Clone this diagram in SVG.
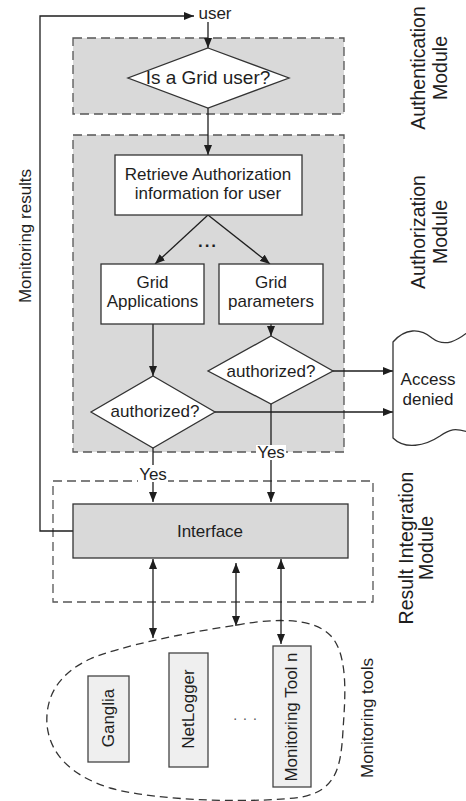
<svg xmlns="http://www.w3.org/2000/svg" width="466" height="801" viewBox="0 0 466 801">
  <defs>
    <style>
      .t { font-family: "Liberation Sans", Arial, sans-serif; font-size: 17px; fill: #1e1e1e; text-anchor: middle; }
      .mod { font-size: 19.5px; }
      .box { fill: #ffffff; stroke: #333333; stroke-width: 1.3; }
      .tool { fill: #efefef; stroke: #444444; stroke-width: 1.3; }
      .iface { fill: #d9d9d9; stroke: #333333; stroke-width: 1.3; }
      .module { fill: #d9d9d9; stroke: #555555; stroke-width: 1.3; stroke-dasharray: 9 5; }
      .frame { fill: none; stroke: #555555; stroke-width: 1.3; stroke-dasharray: 9 5; }
      .blob { fill: none; stroke: #333333; stroke-width: 1.3; stroke-dasharray: 8 5; }
      .conn { fill: none; stroke: #1e1e1e; stroke-width: 1.3; }
      .arr { marker-end: url(#head); }
      .both { marker-start: url(#head); marker-end: url(#head); }
      .dots { font-weight: bold; letter-spacing: 2px; }
    </style>
    <marker id="head" viewBox="0 0 10 8" refX="10" refY="4" markerWidth="10" markerHeight="8" markerUnits="userSpaceOnUse" orient="auto-start-reverse">
      <path d="M0,0 L10,4 L0,8 Z" fill="#1e1e1e"/>
    </marker>
  </defs>

  <rect width="466" height="801" fill="#ffffff"/>

  <!-- module frames -->
  <g id="authentication-module">
    <rect class="module" x="73" y="38" width="271" height="76"/>
    <text class="t mod" transform="translate(425,68) rotate(-90)">Authentication</text>
    <text class="t mod" transform="translate(447,68) rotate(-90)">Module</text>
  </g>
  <g id="authorization-module">
    <rect class="module" x="73" y="135" width="271" height="317"/>
    <text class="t mod" transform="translate(425,232) rotate(-90)">Authorization</text>
    <text class="t mod" transform="translate(447,232) rotate(-90)">Module</text>
  </g>
  <g id="result-integration-module">
    <rect class="frame" x="53" y="481" width="320" height="121"/>
    <text class="t mod" transform="translate(413,548) rotate(-90)">Result Integration</text>
    <text class="t mod" transform="translate(433,548) rotate(-90)">Module</text>
  </g>
  <g id="monitoring-tools">
    <path class="blob" d="M237,625 C270,619 312,616 331,636 C349,656 345,700 343,730 C341,768 336,790 302,797 C262,803 160,802 110,788 C72,776 50,755 47,725 C45,695 60,673 90,659 C120,646 190,632 237,625 Z"/>
    <text class="t" transform="translate(373,718) rotate(-90)">Monitoring tools</text>
  </g>

  <!-- connectors -->
  <g id="connectors">
    <path class="conn arr" d="M73,531 H40 V16 H194"/>
    <path class="conn arr" d="M208,22 V48"/>
    <path class="conn arr" d="M208,108 V155"/>
    <path class="conn arr" d="M208,215 L155,264"/>
    <path class="conn arr" d="M208,215 L270,264"/>
    <path class="conn arr" d="M153,324 V376"/>
    <path class="conn arr" d="M271,324 V336"/>
    <path class="conn arr" d="M333,371 H393"/>
    <path class="conn arr" d="M215,412 H393"/>
    <path class="conn arr" d="M153,448 V502"/>
    <path class="conn arr" d="M271,404 V502"/>
    <path class="conn both" d="M153,559 V638"/>
    <path class="conn both" d="M236,563 V626"/>
    <path class="conn both" d="M281,559 V644"/>
    <text class="t dots" x="208" y="247">...</text>
    <rect x="256" y="445" width="30" height="15" fill="#ffffff"/>
    <text class="t" x="271" y="458">Yes</text>
    <rect x="138" y="465" width="30" height="17" fill="#ffffff"/>
    <text class="t" x="153" y="480">Yes</text>
    <text class="t" x="24" y="236" transform="rotate(-90,24,236)" dy="7">Monitoring results</text>
  </g>

  <g id="user">
    <text class="t" x="215" y="19">user</text>
  </g>

  <g id="is-grid-user">
    <path class="box" d="M208,48 L289,78 L208,108 L128,78 Z"/>
    <text class="t" x="208" y="84" style="font-size:19px">Is a Grid user?</text>
  </g>

  <g id="retrieve-authorization">
    <rect class="box" x="115" y="155" width="187" height="60"/>
    <text class="t" x="208" y="180">Retrieve Authorization</text>
    <text class="t" x="208" y="199">information for user</text>
  </g>

  <g id="grid-applications">
    <rect class="box" x="101" y="264" width="103" height="60"/>
    <text class="t" x="152.5" y="288">Grid</text>
    <text class="t" x="152.5" y="307">Applications</text>
  </g>

  <g id="grid-parameters">
    <rect class="box" x="219" y="264" width="104" height="60"/>
    <text class="t" x="271" y="288">Grid</text>
    <text class="t" x="271" y="307">parameters</text>
  </g>

  <g id="authorized-parameters">
    <path class="box" d="M271,336 L333,371 L271,404 L208,371 Z"/>
    <text class="t" x="271" y="377">authorized?</text>
  </g>

  <g id="authorized-applications">
    <path class="box" d="M153,376 L215,412 L153,448 L91,412 Z"/>
    <text class="t" x="155" y="417">authorized?</text>
  </g>

  <g id="access-denied">
    <path class="box" d="M393,342 C405,328 420,328 432,338 C445,348 458,340 468,332 L468,432 C455,428 450,429 440,436 C425,446 405,450 393,438 Z"/>
    <text class="t" x="428" y="385">Access</text>
    <text class="t" x="428" y="405">denied</text>
  </g>

  <g id="interface">
    <rect class="iface" x="73" y="504" width="275" height="54"/>
    <text class="t" x="210" y="537">Interface</text>
  </g>

  <g id="ganglia">
    <rect class="tool" x="88" y="676" width="41" height="86"/>
    <text class="t" transform="translate(114,718) rotate(-90)">Ganglia</text>
  </g>
  <g id="netlogger">
    <rect class="tool" x="169" y="653" width="39" height="114"/>
    <text class="t" transform="translate(194,709) rotate(-90)">NetLogger</text>
  </g>
  <g id="monitoring-tool-n">
    <rect class="tool" x="273" y="646" width="38" height="141"/>
    <text class="t" transform="translate(297,717) rotate(-90)">Monitoring Tool n</text>
  </g>
  <text class="t" x="248" y="720" style="font-size:14px;letter-spacing:6px;fill:#555555">...</text>
</svg>
